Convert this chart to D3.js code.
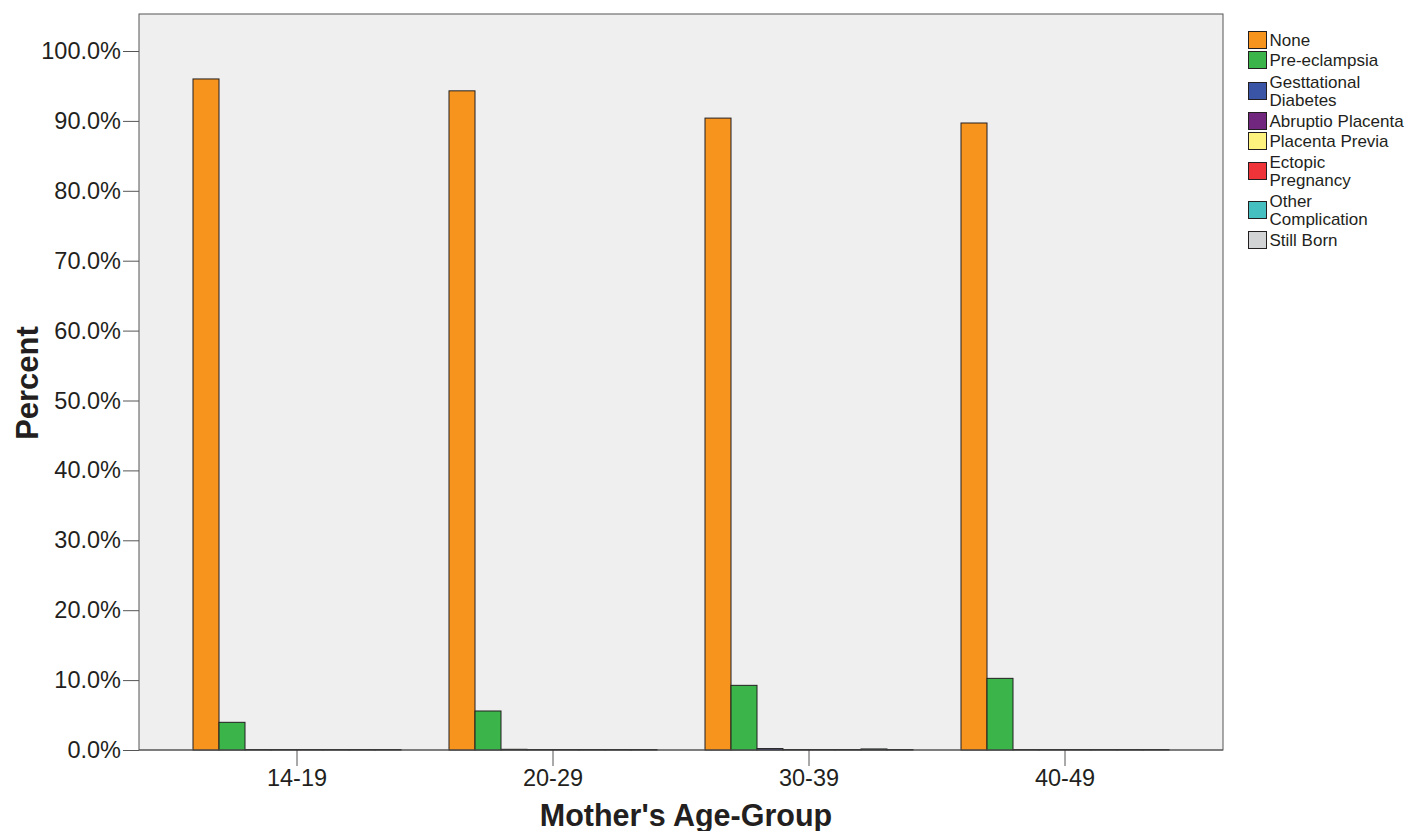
<!DOCTYPE html>
<html><head><meta charset="utf-8">
<script src="https://cdn.jsdelivr.net/npm/d3@7"></script>
<style>body{margin:0;background:#fff;} text{font-family:"Liberation Sans",Arial,sans-serif;fill:#231f20;}</style>
</head><body><svg id="c" width="1408" height="831"></svg>
<script>
const categories = ["14-19","20-29","30-39","40-49"];
const seriesNames = ["None","Pre-eclampsia","Gesttational Diabetes","Abruptio Placenta","Placenta Previa","Ectopic Pregnancy","Other Complication","Still Born"];
const legendLines = [["None"],["Pre-eclampsia"],["Gesttational","Diabetes"],["Abruptio Placenta"],["Placenta Previa"],["Ectopic","Pregnancy"],["Other","Complication"],["Still Born"]];
const seriesColors = ["#F7941E","#3BB54A","#3A55A5","#72277E","#FCF27D","#EE3439","#45BFC0","#D1D3D4"];
// percent values per series, per category
const valNone = [96.0, 94.3, 90.4, 89.7];
const valPre = [3.96, 5.58, 9.25, 10.25];
const valGest = [0, 0.1, 0.2, 0];
const valAbr = [0, 0, 0, 0];
const valPrev = [0, 0, 0, 0];
const valEct = [0, 0, 0, 0];
const valOther = [0, 0, 0.15, 0];
const valStill = [0, 0, 0, 0];
const yTicks = [0,10,20,30,40,50,60,70,80,90,100];
const allVals = [valNone,valPre,valGest,valAbr,valPrev,valEct,valOther,valStill];

const svg = d3.select("#c");
const L=139, T=14, R=1223, B=750;
svg.append("rect").attr("x",L).attr("y",T).attr("width",R-L).attr("height",B-T)
  .attr("fill","#EEEFEE").attr("stroke","#555").attr("stroke-width",1);

const x0 = d3.scaleBand().domain(categories).range([L+30,R-30]).paddingInner(0).paddingOuter(0);
const x1 = d3.scaleBand().domain(seriesNames).range([0,208]);
const y = d3.scaleLinear().domain([0,100]).range([B,51]);

// y axis
const ya = svg.append("g").attr("transform",`translate(${L},0)`)
  .call(d3.axisLeft(y).tickValues(yTicks).tickSize(16).tickPadding(2).tickFormat(d=>d3.format(".1f")(d)+"%"));
ya.select(".domain").remove();
ya.selectAll("line").attr("stroke","#555");
ya.selectAll("text").style("font-size","23.5px").attr("fill","#231f20");

// x axis
const xa = svg.append("g").attr("transform",`translate(0,${B})`)
  .call(d3.axisBottom(x0).tickSize(16).tickPadding(3));
xa.select(".domain").remove();
xa.selectAll("line").attr("stroke","#555");
xa.selectAll("text").style("font-size","23.5px").attr("fill","#231f20");

// bars
const groups = svg.append("g").selectAll("g").data(categories).join("g")
  .attr("transform",d=>`translate(${x0(d)+(x0.bandwidth()-208)/2},0)`);
groups.selectAll("rect").data((c,ci)=>seriesNames.map((s,si)=>({s,si,v:allVals[si][ci]})))
  .join("rect")
  .attr("x",d=>x1(d.s)).attr("width",x1.bandwidth())
  .attr("y",d=>Math.min(y(d.v),B-0.5)).attr("height",d=>Math.max(B-y(d.v),0.5))
  .attr("fill",d=>seriesColors[d.si]).attr("stroke","#231f20").attr("stroke-width",1);

// bottom line over
svg.append("line").attr("x1",L).attr("x2",R).attr("y1",B).attr("y2",B).attr("stroke","#555");

// axis titles
svg.append("text").attr("x",686).attr("y",826).attr("text-anchor","middle")
  .style("font-size","30.5px").style("font-weight","bold").text("Mother's Age-Group");
svg.append("text").attr("transform","translate(38,383) rotate(-90)").attr("text-anchor","middle")
  .style("font-size","31px").style("font-weight","bold").text("Percent");

// legend
const rowCenters = [40,60,91,121,141,171,210,240];
const lg = svg.append("g");
legendLines.forEach((lines,i)=>{
  const cy=rowCenters[i];
  lg.append("rect").attr("x",1248.5).attr("y",cy-8.5).attr("width",18).attr("height",17)
    .attr("fill",seriesColors[i]).attr("stroke","#231f20").attr("stroke-width",1);
  const n=lines.length;
  lines.forEach((t,j)=>{
    lg.append("text").attr("x",1269.5).attr("y",cy+(j-(n-1)/2)*18+6)
      .style("font-size","17px").text(t);
  });
});
</script></body></html>
